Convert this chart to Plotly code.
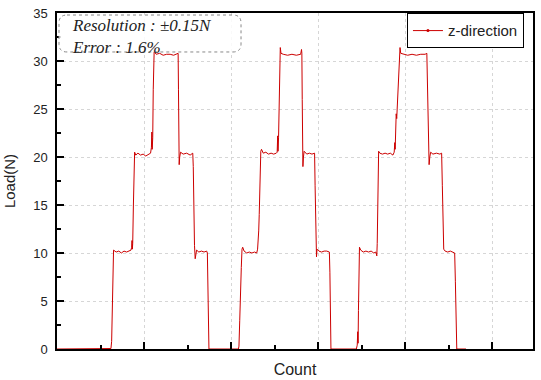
import plotly.graph_objects as go

# Cycle data: (count, load in N)
count = [0, 300, 620, 628, 636, 643, 650, 680, 710, 740, 770, 800, 830, 850, 858, 862, 866, 870, 878, 886, 892, 905, 930, 960, 990, 1020, 1050, 1075, 1085, 1090, 1094, 1100, 1106, 1112, 1118, 1124, 1140, 1180, 1220, 1260, 1300, 1340, 1380, 1392, 1396, 1400, 1404, 1410, 1420, 1450, 1490, 1530, 1560, 1566, 1572, 1580, 1588, 1596, 1604, 1630, 1660, 1690, 1720, 1728, 1734, 1740, 1746,
         2085, 2091, 2100, 2108, 2118, 2126, 2134, 2150, 2180, 2210, 2240, 2270, 2295, 2305, 2312, 2318, 2324, 2334, 2342, 2350, 2370, 2400, 2430, 2460, 2490, 2520, 2530, 2536, 2540, 2546, 2552, 2560, 2566, 2574, 2600, 2650, 2700, 2750, 2800, 2810, 2814, 2818, 2822, 2826, 2832, 2840, 2870, 2900, 2930, 2960, 2966, 2972, 2978, 2982, 2988, 3010, 3040, 3070, 3100, 3130, 3136, 3142, 3148,
         3440, 3450, 3456, 3460, 3464, 3470, 3476, 3490, 3520, 3550, 3580, 3610, 3640, 3665, 3675, 3680, 3688, 3696, 3710, 3740, 3770, 3800, 3830, 3860, 3875, 3882, 3886, 3892, 3898, 3904, 3910, 3918, 3926, 3934, 3942, 3950, 3980, 4030, 4080, 4130, 4180, 4230, 4250, 4256, 4262, 4270, 4276, 4284, 4294, 4320, 4360, 4400, 4420, 4428, 4436, 4444, 4460, 4490, 4520, 4550, 4570, 4578, 4586, 4594, 4700]
load = [0, 0, 0.05, 0.8, 5.0, 9.9, 10.3, 10.1, 10.2, 10.0, 10.2, 10.1, 10.2, 10.3, 10.6, 11.3, 10.4, 11.0, 15.0, 18.5, 20.5, 20.2, 20.4, 20.2, 20.3, 20.1, 20.3, 20.4, 21.0, 22.6, 20.8, 22.0, 27.0, 31.2, 31.6, 30.9, 30.7, 30.8, 30.6, 30.7, 30.7, 30.6, 30.7, 30.8, 27.0, 21.0, 19.2, 20.0, 20.5, 20.3, 20.4, 20.2, 20.4, 19.0, 14.0, 10.8, 9.4, 9.8, 10.3, 10.1, 10.2, 10.1, 10.2, 10.0, 6.0, 0.6, 0.0,
        0, 0.3, 3.0, 6.5, 8.5, 10.4, 10.6, 10.2, 10.0, 10.1, 10.0, 10.1, 10.0, 10.4, 11.2, 12.3, 14.0, 18.5, 20.6, 20.8, 20.4, 20.5, 20.3, 20.4, 20.3, 20.4, 20.5, 22.2, 20.6, 22.0, 26.0, 30.5, 31.4, 30.8, 30.7, 30.6, 30.7, 30.6, 30.7, 31.2, 30.8, 26.0, 20.4, 19.0, 20.0, 20.6, 20.3, 20.4, 20.3, 20.4, 17.0, 12.0, 10.0, 9.6, 10.4, 10.2, 10.1, 10.2, 10.2, 10.1, 8.0, 2.0, 0.0,
        0, 0.4, 1.8, 0.6, 4.0, 9.5, 10.6, 10.3, 10.1, 10.2, 10.1, 10.2, 10.0, 10.1, 9.7, 11.0, 16.0, 20.6, 20.4, 20.3, 20.4, 20.3, 20.4, 20.2, 20.5, 21.5, 20.8, 23.5, 24.5, 24.0, 25.5, 27.0, 29.5, 30.5, 31.4, 30.8, 30.7, 30.6, 30.7, 30.6, 30.7, 30.7, 30.8, 28.0, 23.0, 21.0, 19.2, 20.0, 20.5, 20.3, 20.4, 20.3, 20.4, 17.0, 12.0, 10.4, 10.2, 10.1, 10.2, 10.1, 10.0, 7.0, 2.0, 0.0, 0]

y_ticks = [0, 5, 10, 15, 20, 25, 30, 35]
series_name = "z-direction"
note_lines = ["Resolution : ±0.15N", "Error : 1.6%"]

RED = "#cc0000"
fig = go.Figure()
fig.add_trace(go.Scatter(x=count, y=load, mode="lines", line=dict(color=RED, width=1),
                         showlegend=False))
fig.add_trace(go.Scatter(x=[None], y=[None], mode="lines+markers", name=series_name,
                         line=dict(color=RED, width=1), marker=dict(color=RED, size=3)))

axis_common = dict(showline=True, linecolor="black", linewidth=1.5, mirror=True,
                   ticks="inside", tickcolor="black", ticklen=7, tickwidth=1.5,
                   showgrid=True, gridcolor="#d6d6d6", griddash="dot", gridwidth=1,
                   zeroline=False, automargin=False, ticklabeloverflow="allow",
                   tickfont=dict(family="Liberation Sans, Arial", size=13, color="#222"))

fig.update_xaxes(range=[0, 5470], dtick=1000, tick0=0, showticklabels=False,
                 minor=dict(ticks="inside", ticklen=4, tickcolor="black", dtick=500, showgrid=False),
                 title=dict(text="Count", font=dict(family="Liberation Sans, Arial", size=16, color="#222"), standoff=14),
                 **axis_common)
fig.update_yaxes(range=[0, 35], tickvals=y_ticks, ticklabelstandoff=5,
                 minor=dict(ticks="inside", ticklen=4, tickcolor="black", dtick=2.5, showgrid=False),
                 title=dict(text="Load(N)", font=dict(family="Liberation Sans, Arial", size=15, color="#222"), standoff=14),
                 **axis_common)

# rounded dotted box for the note
x0, x1, y0, y1 = 0.0042, 0.3866, 0.884, 0.994
rx, ry = 0.0168, 0.0238
path = (f"M {x0+rx},{y1} L {x1-rx},{y1} Q {x1},{y1} {x1},{y1-ry} L {x1},{y0+ry} "
        f"Q {x1},{y0} {x1-rx},{y0} L {x0+rx},{y0} Q {x0},{y0} {x0},{y0+ry} "
        f"L {x0},{y1-ry} Q {x0},{y1} {x0+rx},{y1} Z")
fig.add_shape(type="path", path=path, xref="paper", yref="paper",
              line=dict(color="#888", width=1, dash="dot"), fillcolor="rgba(255,255,255,0.85)")

fig.add_annotation(x=0.028, y=0.996, xref="paper", yref="paper", xanchor="left", yanchor="top",
                   text="<i>" + "<br>".join(note_lines) + "</i>", showarrow=False, align="left",
                   font=dict(family="Liberation Serif, Times New Roman", size=17, color="#222"))

fig.update_layout(width=541, height=380, margin=dict(l=57, r=8, t=13, b=31),
                  paper_bgcolor="white", plot_bgcolor="white",
                  legend=dict(x=0.981, y=0.999, xanchor="right", yanchor="top",
                              bgcolor="white", bordercolor="black", borderwidth=1,
                              font=dict(family="Liberation Sans, Arial", size=15, color="#222"),
                              tracegroupgap=0))
fig.write_html("out.html", config={"displayModeBar": False},
               post_script="document.body.style.margin='0';document.body.style.overflow='hidden';")
